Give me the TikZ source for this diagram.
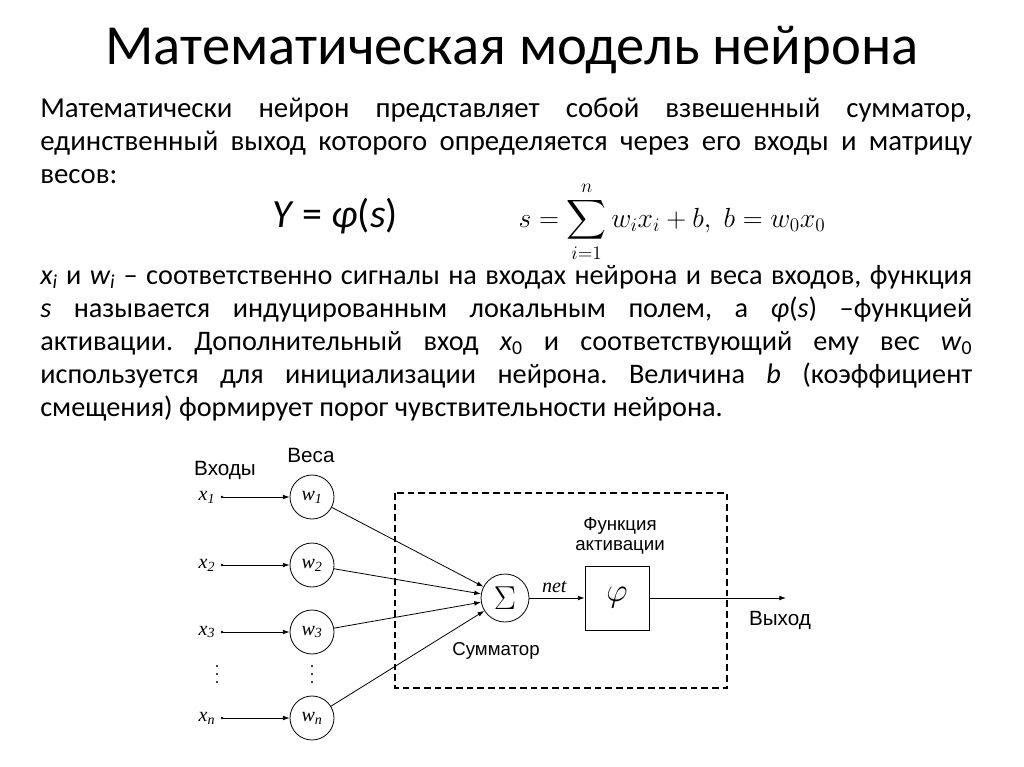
\documentclass[tikz,border=0pt]{standalone}
\usetikzlibrary{arrows.meta}
\usepackage{fontspec}
\setmainfont{Carlito}
\newfontfamily\arialf{Liberation Sans}
\newfontfamily\timesf{Liberation Serif}
\usepackage{amsmath}
\frenchspacing
\begin{document}
\begin{tikzpicture}[x=0.75pt,y=-0.75pt,
  lbl/.style={font=\arialf\fontsize{14}{16}\selectfont},
  wcirc/.style={draw,circle,minimum size=33pt,inner sep=0pt,line width=0.6pt},
  arr/.style={-{Latex[length=5pt,width=3.5pt]},line width=0.6pt},
  var/.style={font=\timesf\itshape\fontsize{15}{16}\selectfont},
  para/.style={text width=699pt,align=justify,anchor=north west,inner sep=0pt,font=\fontsize{21.6}{24.75}\selectfont}]
\useasboundingbox (0,0) rectangle (1024,767);
\node (title) at (512,50) {\fontsize{42.5}{46}\selectfont Математическая модель нейрона};
\node[para] (p1) at (40,98)
 {Математически нейрон представляет собой взвешенный сумматор, единственный выход которого определяется через его входы и матрицу весов:};
\node (f1) at (335,216) {\fontsize{30}{34}\selectfont \textit{Y} = \textit{φ}(\textit{s})};
\node (f2) at (672,222) {\fontsize{20}{24}\selectfont $\displaystyle s=\sum_{i=1}^{n} w_i x_i + b,\; b=w_0x_0$};
\node[para,font=\fontsize{21.2}{24.75}\selectfont] (p2) at (40,265)
 {\textit{x\textsubscript{i}} и \textit{w\textsubscript{i}} – соответственно сигналы на входах нейрона и веса входов, функция\linebreak \textit{s} называется индуцированным локальным полем, а \textit{φ}(\textit{s}) –функцией\linebreak активации. Дополнительный вход \textit{x}\textsubscript{0} и соответствующий ему вес \textit{w}\textsubscript{0}\linebreak используется для инициализации нейрона. Величина \textit{b} (коэффициент\linebreak смещения) формирует порог чувствительности нейрона.};
% diagram
\node[lbl,font=\arialf\fontsize{15.5}{17}\selectfont] (vh) at (225,470) {Входы};
\node[lbl,font=\arialf\fontsize{15.5}{17}\selectfont] (ve) at (311,455) {Веса};
\foreach \i/\y/\s in {1/497/1,2/565/2,3/632/3,n/718/n}{
  \node[var,anchor=east] (x\i) at (220,\y) {x\textsubscript{\s}};
  \fill (222,\y) circle (1.3) coordinate (d\i);
  \node[wcirc,var] (w\i) at (312,\y) {w\textsubscript{\s}};
  \draw[arr] (d\i) -- (w\i);
}
\foreach \xx in {217,312} \foreach \yy in {666,674,682} \fill (\xx,\yy) circle (1.2);
\draw[dashed,line width=1.1pt,dash pattern=on 5pt off 3pt] (395,493) rectangle (727,688);
\node[draw,circle,minimum size=36pt,inner sep=0pt,line width=0.6pt] (sum) at (505,598) {\fontsize{26}{26}\selectfont$\Sigma$};
\node[draw,minimum width=48pt,minimum height=48pt,line width=0.6pt] (phi) at (617,598) {\fontsize{28}{28}\selectfont$\varphi$};
\foreach \i in {1,2,3,n}{\draw[arr] (w\i) -- (sum);}
\draw[arr] (sum) -- node[above,var,pos=0.45] {net} (phi);
\coordinate (out) at (786,598);
\draw[arr] (phi) -- (out);
\node[lbl,font=\arialf\fontsize{15.5}{17}\selectfont] (vyh) at (780,620) {Выход};
\node[lbl] (summ) at (496,651) {Сумматор};
\node[lbl,align=center] (fa) at (620,536) {Функция\\[-1pt]активации};
\end{tikzpicture}
\end{document}
